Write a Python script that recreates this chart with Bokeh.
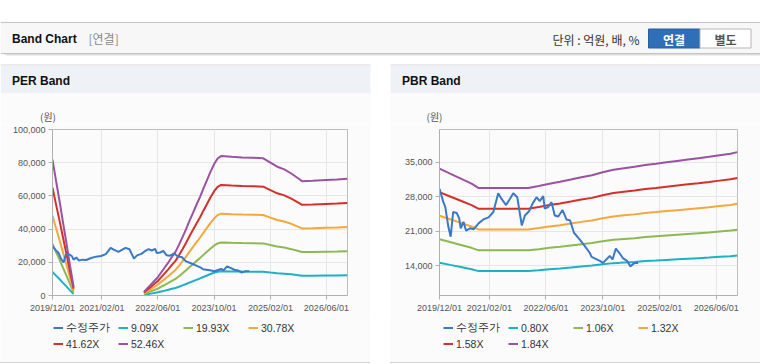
import numpy as np
import pandas as pd
from bokeh.plotting import figure
from bokeh.models import (Range1d, FixedTicker, DatetimeTickFormatter, NumeralTickFormatter,
                          Legend, LegendItem, Label, Spacer)
from bokeh.layouts import column, row
from bokeh.embed import file_html
from bokeh.resources import INLINE

# ---------------- data ----------------
stock_label = "수정주가"
stock_dates = ["2019-12-01", "2020-01-02", "2020-01-20", "2020-02-15", "2020-03-06", "2020-03-27",
               "2020-04-27", "2020-05-18", "2020-05-31", "2020-06-24", "2020-07-16", "2020-08-18",
               "2020-09-18", "2020-10-31", "2020-12-12", "2021-01-25", "2021-03-07", "2021-04-18",
               "2021-05-15", "2021-06-24", "2021-07-28", "2021-08-25", "2021-09-28", "2021-11-06",
               "2021-12-03", "2022-01-09", "2022-02-09", "2022-03-13", "2022-04-09", "2022-05-09",
               "2022-05-22", "2022-06-21", "2022-07-19", "2022-08-16", "2022-09-15", "2022-10-22",
               "2022-11-24", "2022-12-25", "2023-01-28", "2023-03-19", "2023-05-01", "2023-06-13",
               "2023-06-28", "2023-09-07", "2023-10-04", "2023-12-01", "2023-12-25", "2024-01-22",
               "2024-02-25", "2024-03-25", "2024-04-28", "2024-05-25", "2024-07-01", "2024-08-01"]
stock_prices = [29600, 27000, 25900, 21900, 19900, 24900,
                24700, 23600, 21600, 22900, 21100, 21600,
                21400, 22600, 23400, 23800, 24900, 28700,
                27600, 26300, 27600, 28700, 27900, 22200,
                24200, 25100, 26700, 27900, 27100, 28100,
                25600, 25900, 26900, 24200, 24000, 25300,
                23400, 23200, 20700, 19300, 18000, 16600,
                15800, 15000, 14600, 16000, 15300, 17500,
                16500, 15500, 15000, 13900, 14600, 14600]

per_multiples = [9.09, 19.93, 30.78, 41.62, 52.46]
per_dates = ["2019-12-01", "2020-01-01", "2020-02-01", "2020-03-01", "2020-04-01", "2020-05-01",
             "2020-06-01", "2020-07-01",
             "2022-02-01", "2022-03-01", "2022-04-01", "2022-05-01", "2022-06-01", "2022-07-01",
             "2022-08-01", "2022-09-01", "2022-10-01", "2022-11-01", "2022-12-01", "2023-01-01",
             "2023-02-01", "2023-03-01", "2023-04-01", "2023-05-01", "2023-06-01", "2023-07-01",
             "2023-08-01", "2023-09-01", "2023-10-01", "2023-11-01", "2023-12-01", "2024-03-01",
             "2024-06-01", "2024-09-01", "2024-12-01", "2025-02-01", "2025-04-01", "2025-06-01",
             "2025-08-01", "2025-10-01", "2025-11-01", "2026-02-01", "2026-06-01", "2026-09-01",
             "2026-12-01"]
per_eps = [1559, 1315, 1077, 839, 591, 343,
           99, np.nan,
           42, 82, 124, 166, 210, 267,
           324, 381, 442, 501, 581, 671,
           762, 854, 947, 1039, 1130, 1228,
           1325, 1422, 1506, 1573, 1601, 1592,
           1586, 1582, 1575, 1525, 1479, 1449,
           1401, 1344, 1313, 1317, 1325, 1331,
           1340]

pbr_multiples = [0.80, 1.06, 1.32, 1.58, 1.84]
pbr_dates = ["2019-12-01", "2020-03-01", "2020-06-01", "2020-09-01", "2020-11-01", "2021-03-01",
             "2021-06-01", "2021-09-01", "2021-12-01", "2022-01-01", "2022-04-01", "2022-07-01",
             "2022-10-01", "2023-01-01", "2023-04-01", "2023-07-01", "2023-10-01", "2024-01-01",
             "2024-04-01", "2024-07-01", "2024-10-01", "2025-01-01", "2025-04-01", "2025-07-01",
             "2025-10-01", "2026-01-01", "2026-04-01", "2026-07-01", "2026-10-01", "2026-12-01"]
pbr_bps = [18300, 17750, 17200, 16650, 16170, 16170,
           16170, 16170, 16170, 16170, 16400, 16650,
           16850, 17100, 17350, 17570, 17900, 18190,
           18350, 18500, 18700, 18850, 19000, 19150,
           19300, 19450, 19600, 19780, 19950, 20120]

x_tick_dates = ["2019-12-01", "2021-02-01", "2022-06-01", "2023-10-01", "2025-02-01", "2026-06-01"]
x_start, x_end = "2019-12-01", "2026-12-01"
per_y_ticks = [0, 20000, 40000, 60000, 80000, 100000]
per_y_range = (0, 100000)
pbr_y_ticks = [14000, 21000, 28000, 35000]
pbr_y_range = (8000, 41600)

stock_color = "#3b78c8"
band_colors = ["#1db1c6", "#8db953", "#f4a83b", "#d4302b", "#9b52a0"]

# ---------------- styling ----------------
PANEL_BG = "#fbfbfb"
TICK_FONT = "Liberation Sans"
HEADER_H = 124
CHART_H = 194
LEGEND_H = 44


def ms(d):
    return pd.Timestamp(d).value / 1e6


def band_chart(left_border, right_border, y_range, y_ticks, base_dates, base_vals, multiples):
    p = figure(width=370, height=CHART_H, x_axis_type="datetime",
               x_range=Range1d(pd.Timestamp(x_start), pd.Timestamp(x_end)),
               y_range=Range1d(*y_range),
               output_backend="svg", toolbar_location=None,
               min_border_left=left_border, min_border_right=right_border,
               min_border_top=5, min_border_bottom=23,
               background_fill_color=PANEL_BG, border_fill_color=PANEL_BG,
               outline_line_color="#bdbdbd")
    p.xaxis.ticker = FixedTicker(ticks=[ms(d) for d in x_tick_dates])
    p.xaxis.formatter = DatetimeTickFormatter(days="%Y/%m/%d", months="%Y/%m/%d",
                                              years="%Y/%m/%d")
    p.yaxis.ticker = FixedTicker(ticks=y_ticks)
    p.yaxis.formatter = NumeralTickFormatter(format="0,0")
    for ax in (p.xaxis, p.yaxis):
        ax.axis_line_color = "#b0b0b0"
        ax.major_tick_line_color = "#b0b0b0"
        ax.major_tick_out = 4
        ax.major_tick_in = 0
        ax.minor_tick_line_color = None
        ax.major_label_text_font = TICK_FONT
        ax.major_label_text_font_size = "9px"
        ax.major_label_text_color = "#555555"
        ax.major_label_standoff = 3
    p.grid.grid_line_color = "#e6e6e6"

    base_x = pd.to_datetime(base_dates)
    base_v = np.array(base_vals, dtype=float)
    for m, c in zip(multiples, band_colors):
        p.line(base_x, base_v * m, line_color=c, line_width=2)
    p.line(pd.to_datetime(stock_dates), stock_prices, line_color=stock_color, line_width=2)
    return p


def legend_box(multiples):
    lg = figure(width=370, height=LEGEND_H, x_range=Range1d(0, 1), y_range=Range1d(0, 1),
                x_axis_type=None, y_axis_type=None, output_backend="svg",
                toolbar_location=None, min_border=0, outline_line_color=None,
                background_fill_color=PANEL_BG, border_fill_color=PANEL_BG)
    lg.grid.visible = False
    labels = [stock_label] + [f"{m:.2f}X" for m in multiples]
    colors = [stock_color] + band_colors
    items = []
    for lab_text, c in zip(labels, colors):
        # legend key only: a renderer with no drawable point
        r = lg.line(x=[np.nan], y=[np.nan], line_color=c, line_width=2)
        items.append(LegendItem(label=lab_text, renderers=[r]))
    legend = Legend(items=items, orientation="horizontal", ncols=4,
                    location=(53, 12.5),
                    glyph_width=10, glyph_height=11, label_height=11, label_width=49,
                    label_standoff=3, spacing=3, padding=0, margin=0,
                    label_text_font=TICK_FONT, label_text_font_size="10.5px",
                    label_text_color="#333333",
                    background_fill_alpha=0, border_line_alpha=0)
    lg.add_layout(legend)
    return lg


per = band_chart(52, 23, per_y_range, per_y_ticks, per_dates, per_eps, per_multiples)
pbr = band_chart(49, 23, pbr_y_range, pbr_y_ticks, pbr_dates, pbr_bps, pbr_multiples)
per_leg = legend_box(per_multiples)
pbr_leg = legend_box(pbr_multiples)

# ---------------- page header (decoration, page pixel coordinates) ----------------
h = figure(width=760, height=HEADER_H, x_range=Range1d(0, 760), y_range=Range1d(HEADER_H, 0),
           x_axis_type=None, y_axis_type=None, output_backend="svg", toolbar_location=None,
           min_border=0, outline_line_color=None, background_fill_color="white",
           border_fill_color="white")
h.grid.visible = False


def box(l, r, t, b, color, line=None):
    h.quad(left=l, right=r, top=t, bottom=b, fill_color=color,
           line_color=line if line else None)


box(0, 760, 22, 53, "#f7f7f7")
box(0, 760, 21.5, 22.5, "#c4c4c4")
box(0, 760, 52.5, 53.5, "#c3c3c3")
box(4, 760, 53.5, 54.5, "#dddddd")
box(6, 760, 54.5, 55.5, "#eeeeee")
for l, r in ((0, 370), (390, 760)):
    box(l, r, 64, 65, "#d6d6d6")
    box(l, r, 65, 93, "#eef1f6")
    box(l, r, 93, HEADER_H, PANEL_BG)
box(648, 699.5, 28.5, 47.5, "#2f6fb7", "#2a5f9e")
box(699.5, 750.5, 28.5, 47.5, "#ffffff", "#b8b8b8")


def lab(x, y, text, size="12px", color="#222222", bold=False, font="Noto Sans CJK KR",
        align="left"):
    h.add_layout(Label(x=x, y=y, text=text, text_font=font, text_font_size=size,
                       text_color=color, text_font_style="bold" if bold else "normal",
                       text_align=align, text_baseline="middle"))


lab(11.5, 38, "Band Chart", bold=True, font="Liberation Sans", color="#111111")
lab(88, 38, "[연결]", color="#8a8a8a")
lab(552, 38.5, "단위 : 억원, 배, %", color="#333333")
lab(673.5, 38.5, "연결", color="#ffffff", bold=True, align="center")
lab(725, 38.5, "별도", color="#555555", bold=True, align="center")
lab(11.5, 80.5, "PER Band", bold=True, font="Liberation Sans", color="#111111")
lab(401.5, 80.5, "PBR Band", bold=True, font="Liberation Sans", color="#111111")
lab(47.5, 116, "(원)", size="10px", color="#555555", align="center")
lab(434, 116, "(원)", size="10px", color="#555555", align="center")

bottom = row(Spacer(width=370, height=1, styles={"background-color": "#d4d4d4"}),
             Spacer(width=20, height=1),
             Spacer(width=370, height=1, styles={"background-color": "#d4d4d4"}))

layout = column(h,
                row(per, Spacer(width=20, height=CHART_H), pbr),
                row(per_leg, Spacer(width=20, height=LEGEND_H), pbr_leg),
                bottom)

open("out.html", "w").write(file_html(layout, INLINE))
